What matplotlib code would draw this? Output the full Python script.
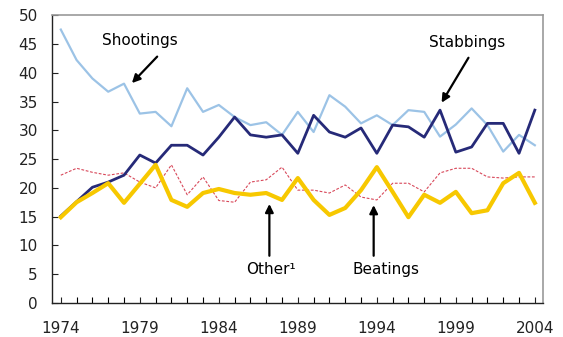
import numpy as np
import matplotlib.pyplot as plt

plt.rcParams['font.family'] = ['DejaVu Sans']

# --- DATA ----------------------------------------------------------------
years = list(range(1974, 2005))

shootings = [47.5, 42.2, 39.0, 36.7, 38.1, 32.9, 33.2, 30.7, 37.3, 33.2,
             34.4, 32.3, 30.9, 31.4, 29.2, 33.2, 29.7, 36.1, 34.1, 31.2,
             32.6, 30.9, 33.5, 33.2, 28.9, 31.0, 33.8, 30.9, 26.3, 29.2, 27.4]

stabbings = [15.1, 17.6, 20.1, 21.0, 22.2, 25.7, 24.3, 27.4, 27.4, 25.7,
             28.8, 32.3, 29.2, 28.8, 29.2, 26.0, 32.6, 29.7, 28.8, 30.4,
             26.0, 30.9, 30.6, 28.8, 33.5, 26.2, 27.1, 31.2, 31.2, 26.0, 33.5]

other = [22.2, 23.4, 22.7, 22.2, 22.6, 21.0, 20.0, 24.0, 18.8, 21.9,
         17.8, 17.5, 21.0, 21.4, 23.6, 19.6, 19.6, 19.1, 20.5, 18.4,
         17.9, 20.8, 20.8, 19.3, 22.6, 23.4, 23.4, 21.9, 21.7, 21.9, 21.9]

beatings = [14.9, 17.5, 19.1, 20.8, 17.4, 20.7, 24.0, 17.9, 16.7, 19.1,
            19.8, 19.1, 18.8, 19.1, 17.9, 21.7, 17.9, 15.3, 16.5, 19.6,
            23.6, 19.3, 14.9, 18.8, 17.4, 19.3, 15.6, 16.1, 20.8, 22.6, 17.4]

xtick_years = [1974, 1979, 1984, 1989, 1994, 1999, 2004]
yticks = list(range(0, 55, 5))

# --- PLOT ----------------------------------------------------------------
fig = plt.figure(figsize=(5.63, 3.37), dpi=100)
ax = fig.add_axes([0.092, 0.101, 0.872, 0.854])

ax.plot(years, shootings, color="#9cc3e6", lw=1.6, zorder=2)
ax.plot(years, stabbings, color="#262a78", lw=2.0, zorder=3)
ax.plot(years, other, color="#d8485a", lw=0.8, ls=(0, (2.5, 1.5)), zorder=2)
ax.plot(years, beatings, color="#f7c800", lw=3.0, zorder=4)

ax.set_xlim(1973.43, 2004.5)
ax.set_ylim(0, 50)
ax.set_xticks(xtick_years)
ax.set_xticks(years, minor=True)
ax.set_yticks(yticks)
ax.tick_params(axis="both", direction="in", labelsize=11, length=4,
               width=0.8, colors="#222222")
ax.tick_params(axis="x", which="minor", direction="in", length=4, width=0.8)
ax.tick_params(axis="x", pad=13)
ax.tick_params(axis="y", pad=10)

for s in ["top", "right"]:
    ax.spines[s].set_color("#999999")
    ax.spines[s].set_linewidth(1.2)
for s in ["left", "bottom"]:
    ax.spines[s].set_color("#222222")
    ax.spines[s].set_linewidth(1.0)

# --- ANNOTATIONS ---------------------------------------------------------
arrow = dict(arrowstyle="-|>", color="black", lw=1.6, mutation_scale=12,
             shrinkA=0, shrinkB=0)
fs = 11
ax.text(1979.0, 45.6, "Shootings", ha="center", va="center", fontsize=fs)
ax.annotate("", xy=(1978.5, 38.2), xytext=(1980.1, 42.8), arrowprops=arrow)
ax.text(1999.7, 45.2, "Stabbings", ha="center", va="center", fontsize=fs)
ax.annotate("", xy=(1998.1, 34.8), xytext=(1999.8, 42.6), arrowprops=arrow)
ax.text(1987.3, 5.8, "Other\u00b9", ha="center", va="center", fontsize=fs)
ax.annotate("", xy=(1987.2, 17.2), xytext=(1987.2, 8.2), arrowprops=arrow)
ax.text(1994.6, 5.8, "Beatings", ha="center", va="center", fontsize=fs)
ax.annotate("", xy=(1993.8, 17.0), xytext=(1993.8, 8.2), arrowprops=arrow)

fig.savefig("out.png", dpi=100)
